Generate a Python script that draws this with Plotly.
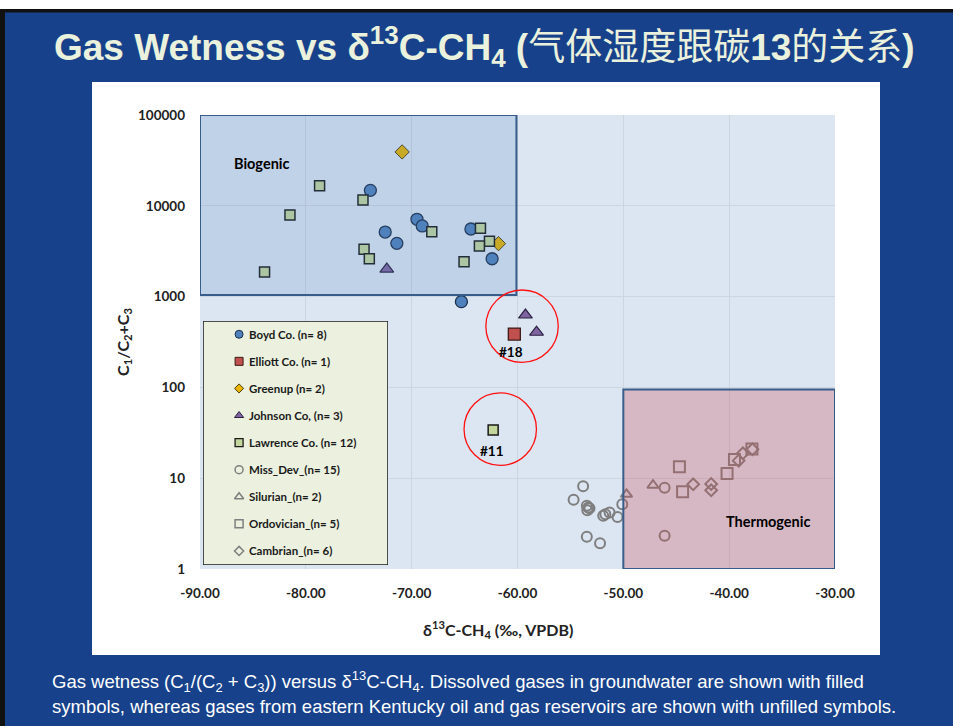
import math
import plotly.graph_objects as go

# ---------------- data ----------------
# δ13C-CH4 (‰, VPDB) and gas wetness C1/(C2+C3) per sample group
boyd_x = [-73.9, -72.5, -71.4, -69.5, -69.0, -64.4, -62.4, -65.3]
boyd_y = [14800, 5140, 3860, 7100, 6000, 5550, 2610, 880]

elliott_x = [-60.3]
elliott_y = [387]

greenup_x = [-70.9, -61.8]
greenup_y = [39200, 3830]

johnson_x = [-72.35, -59.25, -58.2]
johnson_y = [2010, 627, 405]

lawrence_x = [-78.7, -81.5, -83.9, -74.6, -74.5, -74.0, -68.1, -63.5, -62.65, -63.6, -65.05, -62.3]
lawrence_y = [16600, 7930, 1870, 11600, 3320, 2610, 5190, 5650, 4060, 3600, 2420, 34]

missdev_x = [-53.8, -54.7, -53.45, -53.2, -53.4, -53.3, -51.9, -51.3, -51.7, -50.55, -50.1,
             -53.45, -52.2, -46.1, -46.1]
missdev_y = [8.15, 5.8, 4.98, 4.66, 4.44, 4.75, 3.87, 4.2, 4.0, 3.74, 5.16,
             2.27, 1.92, 7.87, 2.33]

silurian_x = [-49.7, -47.2]
silurian_y = [6.65, 8.36]

ordovician_x = [-44.7, -44.4, -40.2, -39.5, -37.85]
ordovician_y = [13.4, 7.1, 11.3, 16.1, 21.0]

cambrian_x = [-43.4, -41.7, -41.7, -39.1, -38.7, -37.8]
cambrian_y = [8.57, 8.63, 7.36, 15.6, 18.8, 20.8]

series_names = ["Boyd Co. (n= 8)", "Elliott Co. (n= 1)", "Greenup (n= 2)", "Johnson Co, (n= 3)",
                "Lawrence Co. (n= 12)", "Miss_Dev_(n= 15)", "Silurian_(n= 2)",
                "Ordovician_(n= 5)", "Cambrian_(n= 6)"]

x_tick_vals = [-90, -80, -70, -60, -50, -40, -30]
x_tick_text = ["-90.00", "-80.00", "-70.00", "-60.00", "-50.00", "-40.00", "-30.00"]
y_tick_vals = [1, 10, 100, 1000, 10000, 100000]
y_tick_text = ["1", "10", "100", "1000", "10000", "100000"]

# highlighted samples: (label, circle centre x, circle centre y, label y)
highlights = [("#18", -59.57, 472, 247, -60.6), ("#11", -61.63, 34.7, 20.1, -62.4)]

# ---------------- layout geometry ----------------
W, H = 953, 726
L, R, T, B = 200, 835, 115, 569
X_RANGE = [-90, -30]
Y_RANGE = [0, 5]  # log10


def px_x(p):
    return (p - L) / (R - L)


def px_y(p):
    return (B - p) / (B - T)


SLIDE_BLUE = "#17428b"
FONT = "Lato"
GREY = "#7f7f7f"
TXT = "#222222"

styles = [
    dict(symbol="circle", size=12, color="#4f81bd", line=dict(color="#1c2f4a", width=1.3)),
    dict(symbol="square", size=12, color="#c0504d", line=dict(color="#3b1a19", width=1.3)),
    dict(symbol="diamond", size=11, color="#e8b500", line=dict(color="#4a3a10", width=1.0)),
    dict(symbol="triangle-up", size=12, color="#8064a2", line=dict(color="#2a2140", width=1.2)),
    dict(symbol="square", size=10, color="#c3d69b", line=dict(color="#1a1a1a", width=1.5)),
    dict(symbol="circle-open", size=10, color=GREY, line=dict(color=GREY, width=2)),
    dict(symbol="triangle-up-open", size=10, color=GREY, line=dict(color=GREY, width=2)),
    dict(symbol="square-open", size=11, color=GREY, line=dict(color=GREY, width=2)),
    dict(symbol="diamond-open", size=9, color=GREY, line=dict(color=GREY, width=2)),
]
legend_styles = [
    dict(symbol="circle", size=8, color="#4f81bd", line=dict(color="#1c2f4a", width=1)),
    dict(symbol="square", size=8, color="#c0504d", line=dict(color="#3b1a19", width=1)),
    dict(symbol="diamond", size=7, color="#e8b500", line=dict(color="#4a3a10", width=1)),
    dict(symbol="triangle-up", size=8, color="#8064a2", line=dict(color="#2a2140", width=1)),
    dict(symbol="square", size=8, color="#c3d69b", line=dict(color="#1a1a1a", width=1.3)),
    dict(symbol="circle-open", size=8, color=GREY, line=dict(color=GREY, width=1.5)),
    dict(symbol="triangle-up-open", size=8, color=GREY, line=dict(color=GREY, width=1.5)),
    dict(symbol="square-open", size=8, color=GREY, line=dict(color=GREY, width=1.5)),
    dict(symbol="diamond-open", size=7, color=GREY, line=dict(color=GREY, width=1.5)),
]
xs = [boyd_x, elliott_x, greenup_x, johnson_x, lawrence_x, missdev_x, silurian_x, ordovician_x, cambrian_x]
ys = [boyd_y, elliott_y, greenup_y, johnson_y, lawrence_y, missdev_y, silurian_y, ordovician_y, cambrian_y]

fig = go.Figure()

# data markers
for name, x, y, st in zip(series_names, xs, ys, styles):
    fig.add_trace(go.Scatter(x=x, y=y, mode="markers", name=name, marker=st,
                             hoverinfo="x+y+name", xaxis="x", yaxis="y"))

# key panel: its own small axes, one row per series
KEY_MARK_X, KEY_TEXT_X = 0.195, 0.238
KEY_Y_RANGE = [8.52, -0.49]
for i, (name, st) in enumerate(zip(series_names, legend_styles)):
    fig.add_trace(go.Scatter(x=[KEY_MARK_X], y=[i], mode="markers", name=name, marker=st,
                             hoverinfo="skip", xaxis="x2", yaxis="y2"))

# ellipse bounds for a circle of given pixel radius around a data point
PX_PER_X = (R - L) / (X_RANGE[1] - X_RANGE[0])
PX_PER_DEC = (B - T) / (Y_RANGE[1] - Y_RANGE[0])
RADIUS = 36.2

shapes = [
    # slide frame
    dict(type="rect", xref="paper", yref="paper", x0=px_x(0), x1=px_x(W), y0=px_y(9), y1=px_y(0),
         fillcolor="white", line=dict(width=0), layer="below"),
    dict(type="rect", xref="paper", yref="paper", x0=px_x(0), x1=px_x(W), y0=px_y(12.5), y1=px_y(9),
         fillcolor="#111111", line=dict(width=0), layer="below"),
    dict(type="rect", xref="paper", yref="paper", x0=px_x(0), x1=px_x(5), y0=px_y(H), y1=px_y(9),
         fillcolor="#111111", line=dict(width=0), layer="below"),
    # chart area
    dict(type="rect", xref="paper", yref="paper", x0=px_x(92), x1=px_x(880), y0=px_y(655), y1=px_y(82),
         fillcolor="white", line=dict(width=0), layer="below"),
    # plot area
    dict(type="rect", xref="paper", yref="paper", x0=0, x1=1, y0=0, y1=1,
         fillcolor="#dce6f2", line=dict(width=0), layer="below"),
    # Biogenic field
    dict(type="rect", xref="x", yref="y", x0=-90, x1=-60.1, y0=1040, y1=100000,
         fillcolor="rgba(79,129,189,0.2)", line=dict(color="#385d8a", width=2), layer="above"),
    # Thermogenic field
    dict(type="rect", xref="x", yref="y", x0=-50, x1=-30, y0=1, y1=95,
         fillcolor="rgba(200,80,90,0.3)", line=dict(color="#385d8a", width=2), layer="above"),
    # key panel background
    dict(type="rect", xref="x2", yref="y2", x0=0, x1=1, y0=KEY_Y_RANGE[0], y1=KEY_Y_RANGE[1],
         fillcolor="#ebf1de", line=dict(color="#1a1a1a", width=1.5), layer="below"),
]
for label, cx, cy, ly, lx in highlights:
    dx = RADIUS / PX_PER_X
    fy = 10 ** (RADIUS / PX_PER_DEC)
    shapes.append(dict(type="circle", xref="x", yref="y", x0=cx - dx, x1=cx + dx, y0=cy / fy, y1=cy * fy,
                       line=dict(color="#ff1010", width=1.3), layer="above"))

annotations = [
    dict(xref="paper", yref="paper", x=px_x(484), y=px_y(47), xanchor="center", yanchor="middle",
         showarrow=False,
         text="<b>Gas Wetness vs δ<sup>13</sup>C-CH<sub>4</sub> (</b>气体湿度跟碳<b>13</b>的关系<b>)</b>",
         font=dict(family="Liberation Sans, Arial, Noto Sans CJK SC", size=37, color="#eaf1dd")),
    dict(xref="paper", yref="paper", x=px_x(50), y=px_y(681.5), xanchor="left", yanchor="middle",
         showarrow=False,
         text="Gas wetness (C<sub>1</sub>/(C<sub>2</sub> + C<sub>3</sub>)) versus δ<sup>13</sup>C-CH<sub>4</sub>. "
              "Dissolved gases in groundwater are shown with filled",
         font=dict(family="Liberation Sans, Arial", size=18.5, color="white")),
    dict(xref="paper", yref="paper", x=px_x(50), y=px_y(706.5), xanchor="left", yanchor="middle",
         showarrow=False,
         text="symbols, whereas gases from eastern Kentucky oil and gas reservoirs are shown with unfilled symbols.",
         font=dict(family="Liberation Sans, Arial", size=18.5, color="white")),
    # x-axis title
    dict(xref="paper", yref="paper", x=px_x(498), y=px_y(629), xanchor="center", yanchor="middle",
         showarrow=False, text="<b>δ<sup>13</sup>C-CH<sub>4</sub> (‰, VPDB)</b>",
         font=dict(family=FONT, size=16, color=TXT)),
    dict(xref="x", yref="y", x=-84.1, y=math.log10(29400), showarrow=False, text="<b>Biogenic</b>",
         font=dict(family=FONT, size=14.5, color="black")),
    dict(xref="x", yref="y", x=-36.35, y=math.log10(3.3), showarrow=False, text="<b>Thermogenic</b>",
         font=dict(family=FONT, size=14.5, color="black")),
]
for label, cx, cy, ly, lx in highlights:
    annotations.append(dict(xref="x", yref="y", x=lx, y=math.log10(ly), showarrow=False,
                            text="<b>%s</b>" % label, font=dict(family=FONT, size=13.5, color="black")))
for i, name in enumerate(series_names):
    annotations.append(dict(xref="x2", yref="y2", x=KEY_TEXT_X, y=i, xanchor="left", yanchor="middle",
                            showarrow=False, text="<b>%s</b>" % name,
                            font=dict(family=FONT, size=11.5, color="#1a1a1a")))

fig.update_layout(
    width=W, height=H,
    margin=dict(l=L, r=W - R, t=T, b=H - B, pad=0),
    paper_bgcolor=SLIDE_BLUE,
    plot_bgcolor="rgba(0,0,0,0)",
    shapes=shapes,
    annotations=annotations,
    showlegend=False,
    xaxis=dict(range=X_RANGE, tickvals=x_tick_vals, ticktext=x_tick_text,
               showgrid=True, gridcolor="#cdd5df", gridwidth=1, zeroline=False, showline=False,
               ticks="", ticklabelstandoff=14,
               tickfont=dict(family=FONT, size=13.5, color=TXT, weight="bold")),
    yaxis=dict(type="log", range=Y_RANGE, tickvals=y_tick_vals, ticktext=y_tick_text,
               showgrid=True, gridcolor="#cdd5df", gridwidth=1, zeroline=False, showline=False,
               ticks="", ticklabelstandoff=14,
               tickfont=dict(family=FONT, size=13.5, color=TXT, weight="bold"),
               title=dict(text="<b>C<sub>1</sub>/C<sub>2</sub>+C<sub>3</sub></b>", standoff=4,
                          font=dict(family=FONT, size=16, color=TXT))),
    xaxis2=dict(domain=[px_x(203), px_x(388)], range=[0, 1], anchor="y2", visible=False, fixedrange=True),
    yaxis2=dict(domain=[px_y(565), px_y(321)], range=KEY_Y_RANGE, anchor="x2", visible=False,
                fixedrange=True),
)

fig.write_html("out.html")
